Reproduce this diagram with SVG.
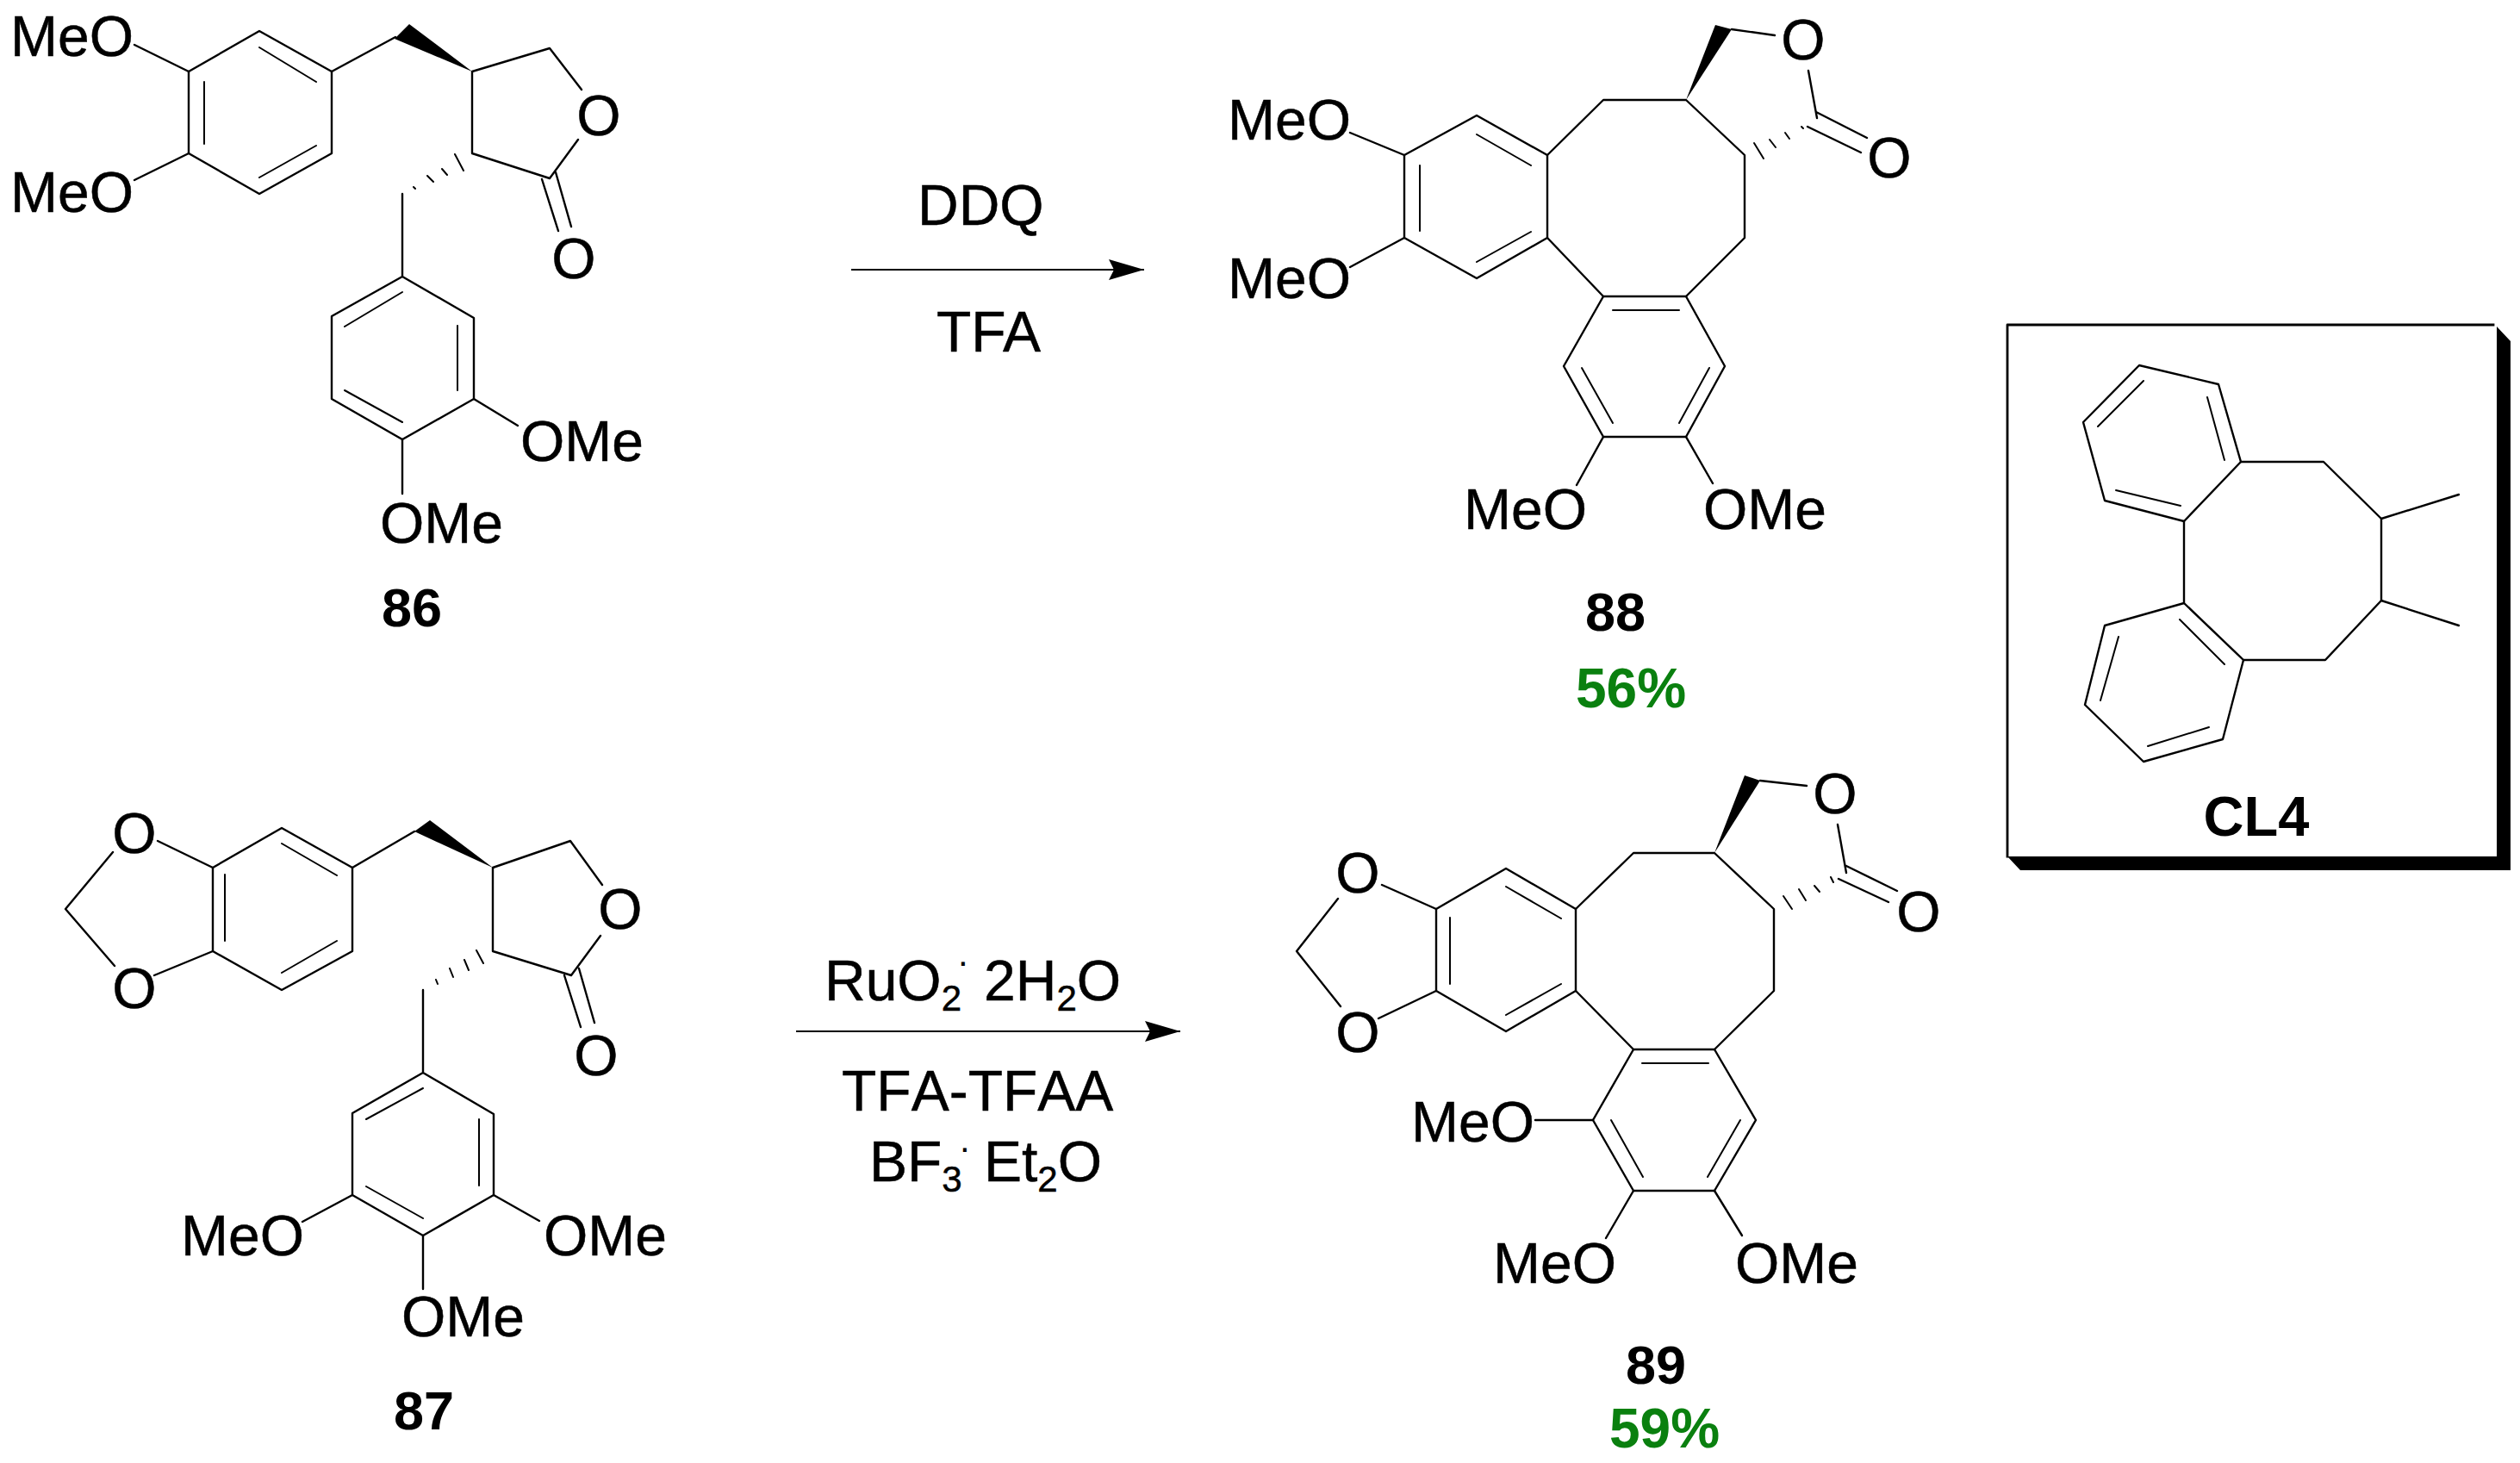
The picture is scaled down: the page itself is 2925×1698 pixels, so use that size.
<svg xmlns="http://www.w3.org/2000/svg" width="2925" height="1698" viewBox="0 0 2925 1698">
<style>
text{font-family:"Liberation Sans",Arial,sans-serif;fill:#000}
.a{font-size:66px;stroke:#000;stroke-width:.5}
.r{font-size:66px;stroke:#000;stroke-width:.5}
.s{font-size:42px}
.n{font-size:63px;font-weight:bold;text-anchor:middle}
.y{font-size:64px;font-weight:bold;text-anchor:middle;fill:#0a800f}
.c{text-anchor:middle}
.bond{fill:none;stroke:#000;stroke-width:2.4;stroke-linecap:round;stroke-linejoin:round}
.thin{stroke-width:2}
.arrow{fill:none;stroke:#000;stroke-width:2.2;marker-end:url(#head)}
</style>
<defs>
<marker id="head" markerUnits="userSpaceOnUse" markerWidth="42" markerHeight="26" viewBox="0 0 42 26" refX="41" refY="13" orient="auto">
<path d="M0 1L41 13L0 25L6 13Z" fill="#000"/>
</marker>
</defs>
<rect width="2925" height="1698" fill="#fff"/>

<g id="connectors">
<path class="arrow" d="M988 313H1328"/>
<path class="arrow" d="M924 1197H1370"/>
</g>

<g id="reagents-1">
<text class="r" x="1065" y="261">DDQ</text>
<text class="r" x="1087" y="408">TFA</text>
</g>
<g id="reagents-2">
<text class="r" x="957" y="1161">RuO<tspan class="s" y="1173">2</tspan></text>
<text class="s" x="1112" y="1121">.</text>
<text class="r" x="1142" y="1161" style="font-kerning:none">2H<tspan class="s" y="1173">2</tspan><tspan y="1161">O</tspan></text>
<text class="r" x="977" y="1289" style="font-kerning:none">TFA-TFAA</text>
<text class="r" x="1009" y="1371">BF<tspan class="s" y="1383">3</tspan></text>
<text class="s" x="1114" y="1337">.</text>
<text class="r" x="1142" y="1371" style="font-kerning:none">Et<tspan class="s" y="1383">2</tspan><tspan y="1371">O</tspan></text>
</g>

<g id="compound-86">
<path class="bond" d="M301 36L385 83V178L301 225L219 178V83Z"/>
<path class="bond thin" d="M301 55L367 95M237 95V167M301 206L367 169"/>
<path class="bond" d="M156 52L219 83M156 209L219 178M385 83L459 43"/>
<path d="M548 83L475 28L458 45Z" fill="#000"/>
<path class="bond" d="M675 104L638 56L548 83V178L638 207L671 162M629 208L648 268M645 200L663 263"/>
<path class="bond thin" d="M528 179L538 198M513 196L519 203M496 204L503 211M480 217L482 219"/>
<path class="bond" d="M467 225V321L550 369V463L467 510L385 463V367L467 321"/>
<path class="bond thin" d="M467 339L400 379M531 378V453M400 453L467 490"/>
<path class="bond" d="M550 463L601 494M467 510V573"/>
<text class="a" x="12" y="65">MeO</text>
<text class="a" x="12" y="246">MeO</text>
<text class="a" x="604" y="535">OMe</text>
<text class="a" x="441" y="630">OMe</text>
<text class="a c" x="695" y="157">O</text>
<text class="a c" x="666" y="323">O</text>
<text class="n" x="478" y="727">86</text>
</g>

<g id="compound-88">
<path class="bond" d="M1714 134L1796 180V276L1714 323L1630 276V180Z"/>
<path class="bond thin" d="M1714 156L1777 192M1648 192V268M1714 304L1777 269"/>
<path class="bond" d="M1567 154L1630 180M1567 310L1630 276"/>
<path class="bond" d="M1796 180L1861 116H1957L2025 180V276L1957 344H1861L1796 276"/>
<path class="bond" d="M1861 344L1815 425L1861 507H1957L2002 425L1957 344"/>
<path class="bond thin" d="M1872 360H1949M1836 427L1872 491M1984 427L1949 491"/>
<path class="bond" d="M1861 507L1830 563M1957 507L1988 561"/>
<path d="M1957 116L1991 29L2010 34Z" fill="#000"/>
<path class="bond" d="M2010 34L2060 41M2099 82L2109 137M2108 130L2167 160M2098 147L2160 177"/>
<path class="bond thin" d="M2036 166L2047 184M2054 162L2061 171M2072 154L2077 161M2091 147L2093 149"/>
<text class="a" x="1425" y="162">MeO</text>
<text class="a" x="1425" y="346">MeO</text>
<text class="a" x="1699" y="614">MeO</text>
<text class="a" x="1977" y="614">OMe</text>
<text class="a c" x="2093" y="69">O</text>
<text class="a c" x="2193" y="206">O</text>
<text class="n" x="1875" y="732">88</text>
<text class="y" x="1893" y="821">56%</text>
</g>

<g id="compound-CL4">
<path d="M2898 379L2914 396V1010H2345L2330 994H2898Z" fill="#000"/>
<path class="bond" style="stroke-width:2.8;stroke-linecap:square" d="M2894 377H2330V994"/>
<path class="bond" d="M2601 536L2575 446L2483 424L2418 490L2443 581L2535 605Z"/>
<path class="bond thin" d="M2488 442L2435 495M2562 461L2582 534M2456 569L2531 587"/>
<path class="bond" d="M2601 536H2697L2764 602V697L2699 766H2604L2535 700V605"/>
<path class="bond" d="M2764 602L2854 574M2764 697L2854 726"/>
<path class="bond" d="M2535 700L2443 726L2420 818L2488 884L2580 858L2604 766"/>
<path class="bond thin" d="M2530 719L2582 771M2459 739L2438 813M2493 866L2564 844"/>
<text class="n" x="2619" y="970" style="font-size:65px">CL4</text>
</g>

<g id="compound-87">
<path class="bond" d="M327 961L409 1007V1104L327 1149L247 1104V1007Z"/>
<path class="bond thin" d="M327 979L391 1016M261 1015V1092M327 1129L391 1092"/>
<path class="bond" d="M183 976L247 1007M179 1132L247 1104M131 989L76 1055L133 1121M409 1007L481 965"/>
<path d="M572 1007L499 952L481 965Z" fill="#000"/>
<path class="bond" d="M699 1027L662 976L572 1007V1104L663 1132L697 1086M655 1132L674 1192M672 1124L690 1187"/>
<path class="bond thin" d="M553 1103L561 1118M539 1114L544 1126M522 1124L526 1134M506 1137L508 1142"/>
<path class="bond" d="M491 1149V1245L573 1293V1387L491 1434L409 1387V1292L491 1245"/>
<path class="bond thin" d="M491 1263L425 1299M556 1299V1376M425 1377L491 1414"/>
<path class="bond" d="M409 1387L351 1418M573 1387L626 1417M491 1434V1496"/>
<text class="a c" x="156" y="990">O</text>
<text class="a c" x="156" y="1170">O</text>
<text class="a c" x="720" y="1078">O</text>
<text class="a c" x="692" y="1248">O</text>
<text class="a" x="210" y="1457">MeO</text>
<text class="a" x="631" y="1457">OMe</text>
<text class="a" x="466" y="1551">OMe</text>
<text class="n" x="492" y="1659">87</text>
</g>

<g id="compound-89">
<path class="bond" d="M1748 1008L1829 1055V1150L1748 1197L1667 1150V1055Z"/>
<path class="bond thin" d="M1748 1029L1812 1066M1683 1065V1142M1748 1178L1812 1142"/>
<path class="bond" d="M1604 1027L1667 1055M1600 1182L1667 1150M1553 1043L1505 1104L1556 1168"/>
<path class="bond" d="M1829 1055L1896 990H1990L2059 1055V1150L1990 1218H1896L1829 1150"/>
<path class="bond" d="M1896 1218L1849 1300L1896 1382H1990L2038 1300L1990 1218"/>
<path class="bond thin" d="M1906 1234H1983M1870 1300L1907 1366M2020 1300L1982 1366"/>
<path class="bond" d="M1849 1300H1782M1896 1382L1864 1437M1990 1382L2022 1434"/>
<path d="M1990 990L2025 900L2043 906Z" fill="#000"/>
<path class="bond" d="M2043 906L2097 912M2133 957L2143 1013M2143 1005L2202 1034M2134 1020L2192 1047"/>
<path class="bond thin" d="M2070 1040L2080 1055M2088 1032L2096 1045M2106 1028L2112 1035M2125 1018L2128 1024"/>
<text class="a c" x="1576" y="1036">O</text>
<text class="a c" x="1576" y="1221">O</text>
<text class="a c" x="2130" y="944">O</text>
<text class="a c" x="2227" y="1081">O</text>
<text class="a" x="1638" y="1325">MeO</text>
<text class="a" x="1733" y="1489">MeO</text>
<text class="a" x="2014" y="1489">OMe</text>
<text class="n" x="1922" y="1606">89</text>
<text class="y" x="1932" y="1680">59%</text>
</g>
</svg>
